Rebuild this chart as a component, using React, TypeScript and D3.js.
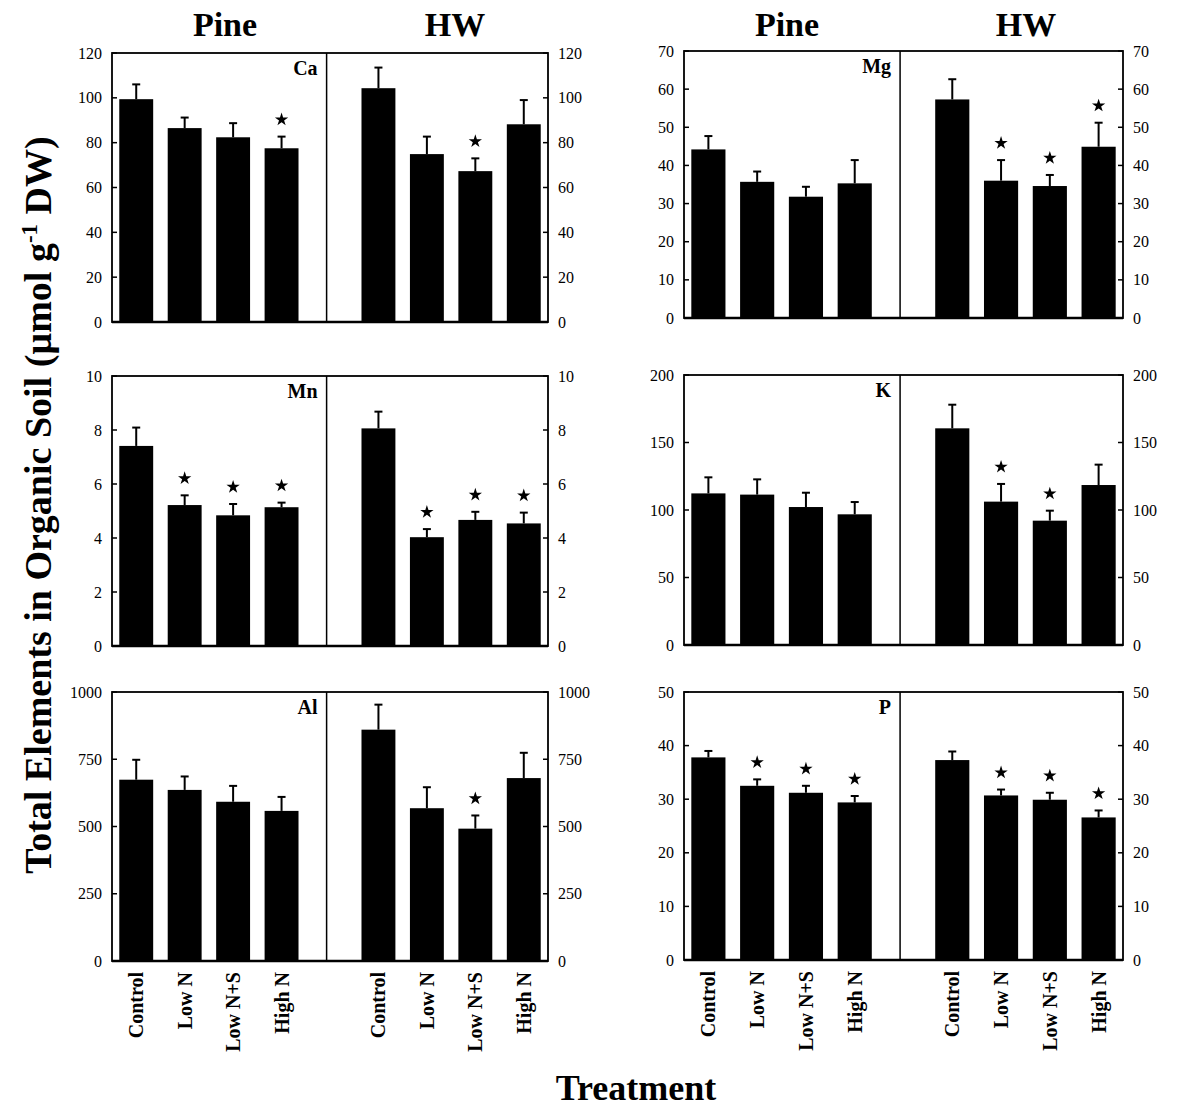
import React from "react";
import * as d3 from "d3";

// Treatments and sites
const treatments = ["Control", "Low N", "Low N+S", "High N"];
const sites = ["Pine", "HW"];

// Element labels and y-axis domains / tick steps
const elements = ["Ca", "Mg", "Mn", "K", "Al", "P"];
const yMax = [120, 70, 10, 200, 1000, 50];
const yStep = [20, 10, 2, 50, 250, 10];

// Means (µmol g-1 DW), Pine then HW
const caPine = [99.4, 86.5, 82.4, 77.5];
const caHW = [104.3, 74.9, 67.3, 88.2];
const mgPine = [44.2, 35.7, 31.8, 35.3];
const mgHW = [57.3, 36.0, 34.6, 44.9];
const mnPine = [7.41, 5.22, 4.84, 5.14];
const mnHW = [8.06, 4.03, 4.67, 4.54];
const kPine = [112.3, 111.4, 102.2, 96.8];
const kHW = [160.5, 106.2, 92.1, 118.5];
const alPine = [674, 636, 592, 558];
const alHW = [860, 568, 492, 680];
const pPine = [37.8, 32.5, 31.2, 29.4];
const pHW = [37.3, 30.7, 29.9, 26.6];

// Standard errors
const caPineSE = [6.6, 4.7, 6.3, 5.2];
const caHWSE = [9.2, 7.8, 5.7, 10.8];
const mgPineSE = [3.5, 2.7, 2.6, 6.1];
const mgHWSE = [5.3, 5.4, 2.9, 6.3];
const mnPineSE = [0.68, 0.36, 0.42, 0.17];
const mnHWSE = [0.62, 0.3, 0.3, 0.4];
const kPineSE = [11.9, 11.3, 10.6, 9.1];
const kHWSE = [17.5, 13.1, 7.4, 15.1];
const alPineSE = [74, 50, 59, 52];
const alHWSE = [93, 78, 49, 94];
const pPineSE = [1.2, 1.2, 1.3, 1.2];
const pHWSE = [1.6, 1.1, 1.3, 1.3];

// Significant differences from control (1 = marked with a star)
const caPineSig = [0, 0, 0, 1];
const caHWSig = [0, 0, 1, 0];
const mgPineSig = [0, 0, 0, 0];
const mgHWSig = [0, 1, 1, 1];
const mnPineSig = [0, 1, 1, 1];
const mnHWSig = [0, 1, 1, 1];
const kPineSig = [0, 0, 0, 0];
const kHWSig = [0, 1, 1, 0];
const alPineSig = [0, 0, 0, 0];
const alHWSig = [0, 0, 1, 0];
const pPineSig = [0, 1, 1, 1];
const pHWSig = [0, 1, 1, 1];

const means = [[caPine, caHW], [mgPine, mgHW], [mnPine, mnHW], [kPine, kHW], [alPine, alHW], [pPine, pHW]];
const ses = [[caPineSE, caHWSE], [mgPineSE, mgHWSE], [mnPineSE, mnHWSE], [kPineSE, kHWSE], [alPineSE, alHWSE], [pPineSE, pHWSE]];
const sigs = [[caPineSig, caHWSig], [mgPineSig, mgHWSig], [mnPineSig, mnHWSig], [kPineSig, kHWSig], [alPineSig, alHWSig], [pPineSig, pHWSig]];

// Layout
const W = 1180;
const H = 1108;
const colX = [[112, 548], [684, 1123]];
const rowY = [
  [[53, 322], [51, 318]],
  [[376, 646], [375, 645]],
  [[692, 961], [692, 960]],
];
const serif = "'Liberation Serif', 'Times New Roman', Times, serif";

function Panel({ idx }: { idx: number }) {
  const col = idx % 2;
  const row = Math.floor(idx / 2);
  const [x0, x1] = colX[col];
  const [yTop, yBot] = rowY[row][col];
  const x = d3
    .scaleBand<number>()
    .domain(d3.range(9))
    .range([x0, x1])
    .paddingInner(0.3)
    .paddingOuter(0.15);
  const y = d3.scaleLinear().domain([0, yMax[idx]]).range([yBot, yTop]);
  const ticks = d3.range(0, yMax[idx] + yStep[idx] / 2, yStep[idx]);
  const divX = x0 + x.step() * 4.43;
  const star = d3.symbol(d3.symbolStar, 55)() as string;
  const bars: { slot: number; v: number; se: number; sig: number; t: number }[] = [];
  sites.forEach((_, s) => {
    treatments.forEach((_, t) => {
      bars.push({
        slot: s * 5 + t,
        v: means[idx][s][t],
        se: ses[idx][s][t],
        sig: sigs[idx][s][t],
        t,
      });
    });
  });
  const bw = x.bandwidth();
  return (
    <g>
      {bars.map((b, i) => {
        const bx = x(b.slot)!;
        const cx = bx + bw / 2;
        const top = y(b.v + b.se);
        return (
          <g key={i}>
            <rect x={bx} y={y(b.v)} width={bw} height={yBot - y(b.v)} fill="#000" />
            <line x1={cx} x2={cx} y1={y(b.v)} y2={top} stroke="#000" strokeWidth={2} />
            <line x1={cx - 4} x2={cx + 4} y1={top} y2={top} stroke="#000" strokeWidth={2} />
            {b.sig ? <path d={star} transform={`translate(${cx},${top - 17})`} fill="#000" /> : null}
          </g>
        );
      })}
      <rect x={x0} y={yTop} width={x1 - x0} height={yBot - yTop} fill="none" stroke="#000" strokeWidth={1.8} />
      <line x1={x0} x2={x1} y1={yBot} y2={yBot} stroke="#000" strokeWidth={2.6} />
      <line x1={divX} x2={divX} y1={yTop} y2={yBot} stroke="#000" strokeWidth={1.5} />
      {ticks.map((tv) => (
        <g key={tv}>
          <line x1={x0} x2={x0 + 5} y1={y(tv)} y2={y(tv)} stroke="#000" strokeWidth={1.5} />
          <line x1={x1 - 5} x2={x1} y1={y(tv)} y2={y(tv)} stroke="#000" strokeWidth={1.5} />
          <text x={x0 - 10} y={y(tv)} dy="0.35em" textAnchor="end" fontSize={16} fontFamily={serif}>
            {tv}
          </text>
          <text x={x1 + 10} y={y(tv)} dy="0.35em" textAnchor="start" fontSize={16} fontFamily={serif}>
            {tv}
          </text>
        </g>
      ))}
      <text
        x={divX - 9}
        y={yTop + 22}
        textAnchor="end"
        fontSize={20}
        fontWeight="bold"
        fontFamily={serif}
      >
        {elements[idx]}
      </text>
      {row === 2
        ? bars.map((b, i) => {
            const cx = x(b.slot)! + bw / 2;
            return (
              <text
                key={"xl" + i}
                transform={`translate(${cx},${yBot + 11}) rotate(-90)`}
                dy="0.35em"
                textAnchor="end"
                fontSize={20}
                fontWeight="bold"
                fontFamily={serif}
              >
                {treatments[b.t]}
              </text>
            );
          })
        : null}
    </g>
  );
}

export default function App() {
  const titleX = [[225, 455], [787, 1026]];
  return (
    <svg
      width={W}
      height={H}
      style={{ position: "absolute", left: 0, top: 0, background: "#fff" }}
    >
      <rect width={W} height={H} fill="#fff" />
      {titleX.map((xs, c) =>
        sites.map((s, i) => (
          <text
            key={c + s}
            x={xs[i]}
            y={36}
            textAnchor="middle"
            fontSize={34}
            fontWeight="bold"
            fontFamily={serif}
          >
            {s}
          </text>
        ))
      )}
      {elements.map((_, i) => (
        <Panel key={i} idx={i} />
      ))}
      <text
        transform="translate(51,505) rotate(-90)"
        textAnchor="middle"
        fontSize={38}
        fontWeight="bold"
        fontFamily={serif}
      >
        Total Elements in Organic Soil (µmol g
        <tspan dy={-14} fontSize={23}>-1</tspan>
        <tspan dy={14}> DW)</tspan>
      </text>
      <text x={636} y={1100} textAnchor="middle" fontSize={36} fontWeight="bold" fontFamily={serif}>
        Treatment
      </text>
    </svg>
  );
}
